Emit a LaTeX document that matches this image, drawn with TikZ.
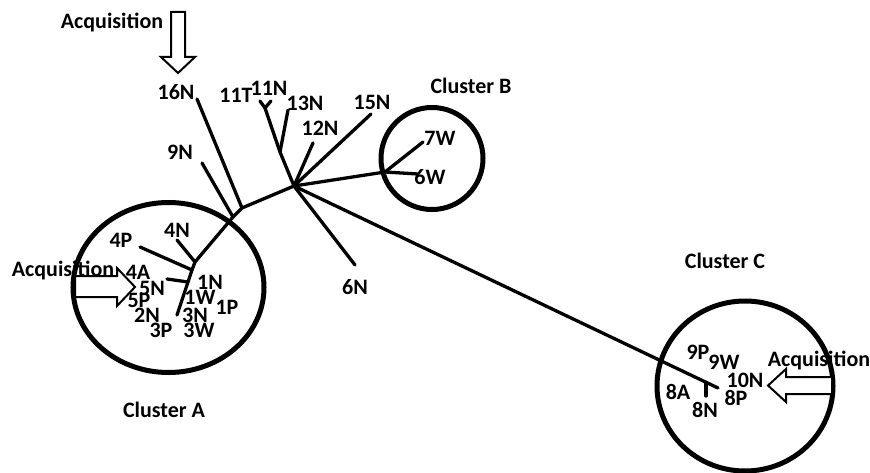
\documentclass[tikz,border=0pt]{standalone}
\usepackage{fontspec}
\setmainfont{Carlito}
\begin{document}
\begin{tikzpicture}[x=1pt,y=-1pt,
  lbl/.style={font=\bfseries\fontsize{22}{24}\selectfont, inner sep=0pt},
  branch/.style={line width=3.3pt, line cap=round, line join=round},
  cluster/.style={line width=5pt},
  bigarrow/.style={draw, fill=white, line width=2pt, line join=miter}]
\useasboundingbox (0,0) rectangle (870,473);
% cluster circles
\draw[cluster] (168.5,287.5) ellipse [x radius=95.5, y radius=85];
\draw[cluster] (432,158.5) circle [radius=51];
\draw[cluster] (745,386) ellipse [x radius=88, y radius=85];
% tree coordinates
\coordinate (JA) at (294,186);
\coordinate (J16) at (242,208);
\coordinate (J9) at (233,217);
\coordinate (J4) at (195,262);
\coordinate (JS1) at (192,270);
\coordinate (JS2) at (188,282);
\coordinate (L3) at (177,315);
\coordinate (L4N) at (177,240);
\coordinate (L4P) at (140,247);
\coordinate (L5N) at (167,279);
\coordinate (L16) at (197,99);
\coordinate (L9) at (202,163);
\coordinate (J13) at (280,152);
\coordinate (J11) at (265,108);
\coordinate (L11T) at (260,101);
\coordinate (L11N) at (271,101);
\coordinate (L13) at (288,110);
\coordinate (L12) at (313,143);
\coordinate (L15) at (371,114);
\coordinate (JB) at (385,172);
\coordinate (L7W) at (423,142);
\coordinate (L6W) at (418,174);
\coordinate (L6N) at (355,265);
\coordinate (JC) at (718,388);
\coordinate (J8) at (706,382.3);
\coordinate (L8N) at (706,396);
% branches
\draw[branch] (JA) -- (J16) -- (J9) -- (J4) -- (JS1) -- (JS2) -- (L3);
\draw[branch] (J4) -- (L4N);
\draw[branch] (JS1) -- (L4P);
\draw[branch] (JS2) -- (L5N);
\draw[branch] (J16) -- (L16);
\draw[branch] (J9) -- (L9);
\draw[branch] (JA) -- (J13) -- (J11);
\draw[branch] (J13) -- (L13);
\draw[branch] (L11T) -- (J11) -- (L11N);
\draw[branch] (JA) -- (L12);
\draw[branch] (JA) -- (L15);
\draw[branch] (JA) -- (JB);
\draw[branch] (JB) -- (L7W);
\draw[branch] (JB) -- (L6W);
\draw[branch] (JA) -- (L6N);
\draw[branch] (JA) -- (JC);
\draw[branch] (J8) -- (L8N);
% acquisition arrows
\draw[bigarrow] (171,12) -- (185,12) -- (185,57) -- (195,57) -- (178,73) -- (161,57) -- (171,57) -- cycle;
\draw[bigarrow] (75,276) -- (117,276) -- (117,268) -- (135,287) -- (117,306) -- (117,297) -- (75,297) -- cycle;
\draw[bigarrow] (832,377) -- (786,377) -- (786,369) -- (768,385.5) -- (786,402) -- (786,394) -- (832,394) -- cycle;
% labels
\node[lbl] (acqT) at (112,22) {Acquisition};
\node[lbl] (acqL) at (63,270) {Acquisition};
\node[lbl] (acqR) at (819,360) {Acquisition};
\node[lbl] (t16N) at (176,92) {16N};
\node[lbl] (t9N) at (180,152) {9N};
\node[lbl] (t11T) at (236,95) {11T};
\node[lbl] (t11N) at (269,88) {11N};
\node[lbl] (t13N) at (305,103) {13N};
\node[lbl] (t12N) at (320,128) {12N};
\node[lbl] (t15N) at (372,102) {15N};
\node[lbl] (cB) at (471,86) {Cluster B};
\node[lbl] (t7W) at (440,138) {7W};
\node[lbl] (t6W) at (430,177) {6W};
\node[lbl] (t6N) at (355,287) {6N};
\node[lbl] (t4N) at (177,230) {4N};
\node[lbl] (t4P) at (121,240) {4P};
\node[lbl] (t4A) at (138,272) {4A};
\node[lbl] (t5N) at (152,288) {5N};
\node[lbl] (t5P) at (139,300) {5P};
\node[lbl] (t2N) at (147,315) {2N};
\node[lbl] (t3P) at (161,330) {3P};
\node[lbl] (t1N) at (210,282) {1N};
\node[lbl] (t1W) at (200,297) {1W};
\node[lbl] (t1P) at (227,307) {1P};
\node[lbl] (t3N) at (195,315) {3N};
\node[lbl] (t3W) at (199,330) {3W};
\node[lbl] (cA) at (164,410) {Cluster A};
\node[lbl] (cC) at (725,261) {Cluster C};
\node[lbl] (t9P) at (698,352) {9P};
\node[lbl] (t9W) at (724,362) {9W};
\node[lbl] (t10N) at (745,380) {10N};
\node[lbl] (t8A) at (678,392) {8A};
\node[lbl] (t8N) at (705,410) {8N};
\node[lbl] (t8P) at (736,398) {8P};
\end{tikzpicture}
\end{document}
